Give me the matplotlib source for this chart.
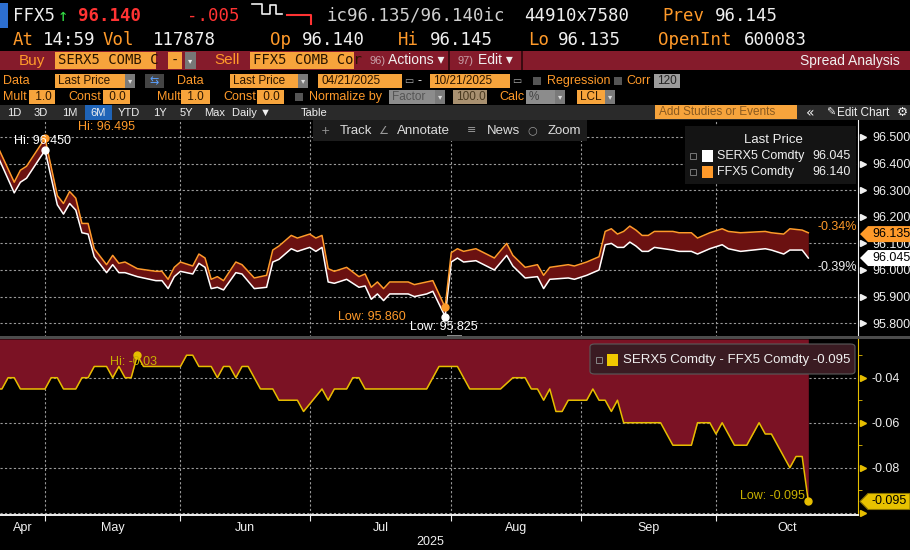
import numpy as np
import matplotlib
matplotlib.use("Agg")
import matplotlib.pyplot as plt
import matplotlib.transforms as mtransforms
from matplotlib.patches import Rectangle, Polygon, FancyBboxPatch

W, H = 910, 550
MONO = "DejaVu Sans Mono"
SANS = ["Liberation Sans", "DejaVu Sans"]
ORANGE = "#ff9a2a"
AMBER = "#f7a43c"
WHITE = "#f0f0f0"

# trading day number, counted in weekdays from Mon 21 Apr 2025
days = [0, 3, 4, 5, 8, 10, 11, 12, 13, 14, 15, 16, 18, 19, 20, 21, 23, 26, 27, 28,
        29, 30, 32, 33, 34, 35, 36, 37, 39, 40, 42, 44, 45, 46, 48, 49, 51, 52, 53, 54,
        55, 57, 59, 60, 61, 62, 63, 64, 67, 68, 70, 71, 73, 74, 75, 76, 78, 81, 83, 84,
        86, 88, 89, 90, 93, 94, 96, 98, 99, 100, 101, 102, 103, 104, 105, 106, 107, 110, 111, 113,
        114, 115, 116, 118, 119, 121, 125, 126, 128, 129, 131, 132]
ffx5 = [96.480, 96.330, 96.375, 96.390, 96.495, 96.280, 96.250, 96.295, 96.270, 96.175,
        96.175, 96.080, 96.020, 96.055, 96.025, 96.030, 96.005, 95.995, 95.995, 95.965,
        96.010, 96.030, 96.015, 96.060, 96.045, 95.965, 95.975, 95.960, 96.030, 96.020,
        95.970, 95.980, 96.075, 96.090, 96.130, 96.120, 96.135, 96.120, 96.130, 96.005,
        95.995, 96.010, 95.975, 95.985, 95.935, 95.955, 95.930, 95.955, 95.955, 95.945,
        95.955, 95.960, 95.860, 96.065, 96.080, 96.070, 96.080, 96.045, 96.100, 96.055,
        96.010, 96.020, 95.980, 96.010, 96.020, 96.015, 96.030, 96.050, 96.145, 96.155,
        96.135, 96.145, 96.165, 96.150, 96.130, 96.130, 96.145, 96.145, 96.140, 96.140,
        96.120, 96.130, 96.140, 96.155, 96.145, 96.140, 96.145, 96.140, 96.135, 96.155,
        96.150, 96.140]
serx5 = [96.445, 96.290, 96.330, 96.345, 96.450, 96.245, 96.210, 96.250, 96.225, 96.140,
         96.135, 96.050, 95.990, 96.020, 95.990, 95.990, 95.975, 95.960, 95.960, 95.930,
         95.975, 95.995, 95.985, 96.025, 96.010, 95.930, 95.935, 95.925, 95.990, 95.985,
         95.930, 95.935, 96.030, 96.040, 96.080, 96.070, 96.085, 96.070, 96.085, 95.955,
         95.950, 95.965, 95.935, 95.940, 95.890, 95.910, 95.885, 95.910, 95.910, 95.900,
         95.910, 95.920, 95.825, 96.030, 96.045, 96.030, 96.035, 96.000, 96.055, 96.015,
         95.970, 95.975, 95.930, 95.965, 95.970, 95.965, 95.980, 96.000, 96.095, 96.100,
         96.085, 96.085, 96.105, 96.090, 96.070, 96.070, 96.085, 96.075, 96.070, 96.070,
         96.060, 96.070, 96.080, 96.095, 96.080, 96.070, 96.080, 96.075, 96.060, 96.075,
         96.075, 96.045]

# SERX5 - FFX5 spread
sp_days = [0, 1, 2, 3, 4, 8, 9, 10, 11, 13, 14, 15, 16, 18, 19, 20, 21, 22, 23, 24,
           30, 31, 32, 33, 35, 36, 37, 38, 39, 40, 41, 43, 45, 46, 49, 50, 53, 54, 55, 57,
           58, 59, 60, 70, 72, 75, 77, 82, 84, 86, 87, 88, 89, 90, 91, 92, 93, 96, 97, 98,
           99, 100, 101, 102, 108, 110, 113, 114, 116, 117, 118, 120, 122, 124, 125, 126, 129, 130, 131, 132]
spread = [-0.045, -0.045, -0.040, -0.040, -0.045, -0.045, -0.040, -0.040, -0.045, -0.045,
          -0.040, -0.040, -0.035, -0.035, -0.040, -0.035, -0.040, -0.040, -0.030, -0.035,
          -0.035, -0.030, -0.030, -0.035, -0.035, -0.040, -0.035, -0.035, -0.040, -0.035,
          -0.035, -0.045, -0.045, -0.050, -0.050, -0.055, -0.045, -0.050, -0.045, -0.045,
          -0.040, -0.040, -0.045, -0.045, -0.035, -0.035, -0.045, -0.045, -0.040, -0.040,
          -0.045, -0.045, -0.050, -0.045, -0.055, -0.055, -0.050, -0.050, -0.045, -0.050,
          -0.050, -0.055, -0.050, -0.060, -0.060, -0.070, -0.070, -0.060, -0.060, -0.065,
          -0.060, -0.070, -0.070, -0.060, -0.065, -0.065, -0.080, -0.075, -0.075, -0.095]

# first trading day of each month and month names
month_starts = [8, 30, 51, 74, 95, 117]
month_names = ["Apr", "May", "Jun", "Jul", "Aug", "Sep", "Oct"]
price_ticks = [95.8, 95.9, 96.0, 96.1, 96.2, 96.3, 96.4, 96.5]
spread_ticks = [-0.04, -0.06, -0.08]
spread_minor = [-0.03, -0.05, -0.07, -0.09]

fig = plt.figure(figsize=(W / 100, H / 100), dpi=100, facecolor="black")


def fx(x):
    return x / W


def fy(y):
    return 1 - y / H


def ptxt(x, y, s, color=WHITE, size=9, family=SANS, ha="left", va="center", **kw):
    fig.text(fx(x), fy(y), s, color=color, fontsize=size, family=family, ha=ha, va=va, **kw)


def prect(x0, y0, x1, y1, color, **kw):
    fig.add_artist(Rectangle((fx(x0), fy(y1)), (x1 - x0) / W, (y1 - y0) / H,
                             transform=fig.transFigure, facecolor=color,
                             edgecolor=kw.pop("edgecolor", "none"), **kw))


def box(x0, x1, y0, y1, s, face=AMBER, tcolor="#2a1500", size=8.5, family=SANS, drop=False):
    prect(x0, y0, x1, y1, face)
    ptxt(x0 + 3, (y0 + y1) / 2, s, color=tcolor, size=size, family=family)
    if drop:
        prect(x1 - 10, y0, x1, y1, "#7a7a7a")
        ptxt(x1 - 5, (y0 + y1) / 2, "▾", color="#dddddd", size=6, family="DejaVu Sans", ha="center")


HEAD = 12.5

# ---- header row 1
prect(0, 3, 8, 28, "#2d6fd0")
ptxt(13, 16, "FFX5", WHITE, HEAD, MONO)
ptxt(58, 16, "↑", "#33dd44", HEAD, MONO)
ptxt(78, 16, "96.140", "#ff3333", HEAD, MONO, weight="bold")
ptxt(187, 16, "-.005", "#ff3333", HEAD, MONO)
fig.add_artist(plt.Line2D([fx(252), fx(262), fx(262), fx(270), fx(270), fx(276), fx(276), fx(282)],
                          [fy(4), fy(4), fy(14), fy(14), fy(5), fy(5), fy(14), fy(14)],
                          color=WHITE, lw=1.2, transform=fig.transFigure))
fig.add_artist(plt.Line2D([fx(287), fx(311), fx(311)], [fy(15), fy(15), fy(24)],
                          color="#ff3333", lw=1.5, transform=fig.transFigure))
ptxt(327, 16, "ic96.135/96.140ic", "#d0d0d0", HEAD, MONO)
ptxt(524, 16, "44910x7580", WHITE, HEAD, MONO)
ptxt(662, 16, "Prev", ORANGE, HEAD, MONO)
ptxt(715, 16, "96.145", WHITE, HEAD, MONO)

# ---- header row 2
for x, s, c in [(13, "At", ORANGE), (43, "14:59", WHITE), (103, "Vol", ORANGE), (153, "117878", WHITE),
                (270, "Op", ORANGE), (302, "96.140", WHITE), (398, "Hi", ORANGE), (430, "96.145", WHITE),
                (528, "Lo", ORANGE), (558, "96.135", WHITE), (658, "OpenInt", ORANGE), (744, "600083", WHITE)]:
    ptxt(x, 40, s, c, HEAD, MONO)

# ---- header row 3 (red bar)
prect(0, 51, W, 70, "#851b2b")
ptxt(19, 60.5, "Buy", ORANGE, 11)
box(55, 156, 52, 69, "SERX5 COMB C", size=10, family=MONO)
box(168, 182, 52, 69, "-", size=10, family=MONO)
prect(185, 52, 196, 69, "#777777")
ptxt(190.5, 60.5, "▾", "#eeeeee", 6, "DejaVu Sans", ha="center")
ptxt(214, 60.5, "Sell", ORANGE, 11)
box(250, 354, 52, 69, "FFX5 COMB Cor", size=10, family=MONO)
ptxt(370, 60.5, "96)", "#c8a0a8", 8)
ptxt(388, 60.5, "Actions ▾", WHITE, 10)
prect(448, 51, 450, 70, "#3a0a10")
ptxt(457, 60.5, "97)", "#c8a0a8", 8)
ptxt(478, 60.5, "Edit ▾", WHITE, 10)
prect(521, 51, 523, 70, "#3a0a10")
ptxt(900, 60.5, "Spread Analysis", WHITE, 10, ha="right")

# ---- header row 4
ptxt(3, 81, "Data", ORANGE, 9)
box(55, 135, 74, 88, "Last Price", drop=True)
prect(145, 74, 164, 88, "#444444")
ptxt(154.5, 81, "⇆", "#5aa0ff", 8, "DejaVu Sans", ha="center")
ptxt(177, 81, "Data", ORANGE, 9)
box(230, 308, 74, 88, "Last Price", drop=True)
box(318, 402, 74, 88, "04/21/2025")
ptxt(409, 81, "▭", "#aaaaaa", 7, "DejaVu Sans", ha="center")
ptxt(418, 81, "-", WHITE, 9)
box(430, 510, 74, 88, "10/21/2025")
ptxt(517, 81, "▭", "#aaaaaa", 7, "DejaVu Sans", ha="center")
prect(533, 77, 541, 85, "#555555")
ptxt(547, 81, "Regression", ORANGE, 9)
prect(614, 77, 622, 85, "#555555")
ptxt(626, 81, "Corr", ORANGE, 9)
box(654, 680, 74, 88, "120", face="#9c9c9c", tcolor="#222222")

# ---- header row 5
ptxt(3, 97, "Mult", ORANGE, 9)
box(29, 55, 90, 104, " 1.0")
ptxt(68, 97, "Const", ORANGE, 9)
box(103, 130, 90, 104, " 0.0")
ptxt(157, 97, "Mult", ORANGE, 9)
box(181, 210, 90, 104, " 1.0")
ptxt(223, 97, "Const", ORANGE, 9)
box(257, 284, 90, 104, " 0.0")
prect(295, 93, 303, 101, "#555555")
ptxt(309, 97, "Normalize by", ORANGE, 9)
box(389, 445, 90, 104, "Factor", face="#8c8c8c", tcolor="#555555", drop=True)
box(453, 487, 90, 104, "100.0", face="#a89070", tcolor="#4a3a20")
ptxt(499, 97, "Calc", ORANGE, 9)
box(526, 565, 90, 104, "%", face="#8c8c8c", tcolor="#444444", drop=True)
box(577, 615, 90, 104, "LCL", drop=True)

# ---- header row 6 (toolbar)
prect(0, 105, W, 120, "#2a2a2a")
prect(85, 105, 112, 120, "#1f64b8")
for x, s in [(14, "1D"), (41, "3D"), (70, "1M"), (98, "6M"), (129, "YTD"), (160, "1Y"),
             (186, "5Y"), (215, "Max"), (252, "Daily ▼"), (314, "Table")]:
    ptxt(x, 112.5, s, WHITE, 8, ha="center")
prect(655, 105, 797, 119, AMBER)
ptxt(659, 112, "Add Studies or Events", "#8a5a20", 8.5)
ptxt(806, 112.5, "«", WHITE, 10, "DejaVu Sans")
ptxt(826, 112.5, "✎", WHITE, 8, "DejaVu Sans")
ptxt(837, 112.5, "Edit Chart", WHITE, 8.5)
ptxt(902, 112.5, "⚙", WHITE, 9, "DejaVu Sans", ha="center")

# ---- axes
ax1 = fig.add_axes([0, fy(337), 858 / W, (337 - 120) / H], facecolor="black")
ax2 = fig.add_axes([0, fy(515), 858 / W, (515 - 339) / H], facecolor="black")
xlim = (0.69, 140.07)
for ax in (ax1, ax2):
    ax.set_xlim(*xlim)
    for side in ("left", "top", "bottom"):
        ax.spines[side].set_visible(False)
    ax.yaxis.tick_right()
    for d in month_starts:
        ax.axvline(d, color="#9a9a9a", lw=0.8, ls=(0, (2, 2)), zorder=0)
ax1.set_ylim(95.7481, 96.5639)
ax2.set_ylim(-0.1010, -0.0228)

# price panel
for v in price_ticks:
    ax1.axhline(v, color="#9a9a9a", lw=0.8, ls=(0, (2, 2)), zorder=0)
ax1.fill_between(days, serx5, ffx5, color="#6b1111", lw=0, zorder=1)
ax1.plot(days, serx5, color="white", lw=1.1, zorder=3)
ax1.plot(days, ffx5, color=ORANGE, lw=1.1, zorder=3)
ax1.set_xticks([])
ax1.set_yticks(price_ticks)
ax1.set_yticklabels([f"{v:.3f}" for v in price_ticks])
ax1.tick_params(axis="y", length=0, pad=10, labelsize=9, labelcolor=WHITE)
for lab in ax1.get_yticklabels():
    lab.set_family(SANS)
ax1.spines["right"].set_color(WHITE)
tr1 = mtransforms.blended_transform_factory(ax1.transAxes, ax1.transData)
ax1.plot([1.006] * len(price_ticks), price_ticks, ls="none", marker=">", ms=4.5,
         color=WHITE, transform=tr1, clip_on=False)

# hi / low markers
i_hi, i_lo = int(np.argmax(ffx5)), int(np.argmin(ffx5))
j_hi, j_lo = int(np.argmax(serx5)), int(np.argmin(serx5))
for x, y, c, s, off, ha in [
    (days[i_hi], ffx5[i_hi], ORANGE, f"Hi: {ffx5[i_hi]:.3f}", (33, 11), "left"),
    (days[j_hi], serx5[j_hi], "white", f"Hi: {serx5[j_hi]:.3f}", (-31, 9), "left"),
    (days[i_lo], ffx5[i_lo], ORANGE, f"Low: {ffx5[i_lo]:.3f}", (-39, -10), "right"),
    (days[j_lo], serx5[j_lo], "white", f"Low: {serx5[j_lo]:.3f}", (-35, -10), "left"),
]:
    ax1.plot([x], [y], "o", color=c, ms=5, zorder=5, clip_on=False)
    ax1.annotate(s, (x, y), xytext=off, textcoords="offset pixels", color=c, fontsize=9,
                 family=SANS, ha=ha, va="center", zorder=6)

# spread panel
for v in spread_ticks + [-0.10]:
    ax2.axhline(v, color="#9a9a9a", lw=0.8, ls=(0, (2, 2)), zorder=0)
ax2.fill_between(sp_days, spread, ax2.get_ylim()[1], color="#7b1224", lw=0, zorder=1)
ax2.plot(sp_days, spread, color="#e6be00", lw=1.1, zorder=3)
ax2.spines["right"].set_color("#e6be00")
ax2.spines["bottom"].set_visible(True)
ax2.spines["bottom"].set_color(WHITE)
ax2.spines["bottom"].set_linewidth(1.4)
ax2.set_yticks(spread_ticks)
ax2.set_yticklabels([f"{v:.2f}" for v in spread_ticks])
ax2.set_yticks(spread_minor, minor=True)
ax2.tick_params(axis="y", which="major", length=0, pad=10, labelsize=9, labelcolor=WHITE)
ax2.tick_params(axis="y", which="minor", length=3, color="#e6be00", direction="out")
for lab in ax2.get_yticklabels():
    lab.set_family(SANS)
tr2 = mtransforms.blended_transform_factory(ax2.transAxes, ax2.transData)
ax2.plot([1.006] * (len(spread_ticks) + 1), spread_ticks + [-0.10], ls="none", marker=">",
         ms=4.5, color="#e6be00", transform=tr2, clip_on=False)

# month ticks and labels
bounds = [xlim[0]] + month_starts + [xlim[1]]
mids = [(a + b) / 2 for a, b in zip(bounds[:-1], bounds[1:])]
ax2.set_xticks(month_starts)
ax2.set_xticklabels([])
ax2.set_xticks(mids, minor=True)
ax2.set_xticklabels(month_names, minor=True)
ax2.tick_params(axis="x", which="major", length=4, color=WHITE, direction="out")
ax2.tick_params(axis="x", which="minor", length=0, pad=5, labelsize=9, labelcolor=WHITE)
for lab in ax2.get_xticklabels(minor=True):
    lab.set_family(SANS)
ptxt(430, 542, "2025", WHITE, 9, ha="center")

k_hi, k_lo = int(np.argmax(spread)), int(np.argmin(spread))
for x, y, s, off, ha in [
    (sp_days[k_hi], spread[k_hi], f"Hi: {spread[k_hi]:.2f}", (-27, -7), "left"),
    (sp_days[k_lo], spread[k_lo], f"Low: {spread[k_lo]:.3f}", (-3, 5), "right"),
]:
    ax2.plot([x], [y], "o", color="#e6be00", ms=5, zorder=5, clip_on=False)
    ax2.annotate(s, (x, y), xytext=off, textcoords="offset pixels", color="#c8b000",
                 fontsize=9, family=SANS, ha=ha, va="center", zorder=6)

# panel separator
prect(0, 336, W, 339, "#4c4c4c")
prect(447, 335, 462, 336, "#8a8a8a")

# ---- chart toolbar
prect(313, 120, 587, 141, "#1c1c1c")
for x, s in [(325, "+"), (383, "∠"), (472, "≡"), (532, "○")]:
    ptxt(x, 130.5, s, "#9a9a9a", 8, "DejaVu Sans", ha="center")
for x, s in [(340, "Track"), (397, "Annotate"), (487, "News"), (548, "Zoom")]:
    ptxt(x, 130.5, s, "#dcdcdc", 9.5)

# ---- legends
prect(685, 126, 856, 184, "#141414")
ptxt(773, 140, "Last Price", WHITE, 9.5, ha="center")
for y, c, name, val in [(156, "white", "SERX5 Comdty", serx5[-1]), (172, ORANGE, "FFX5 Comdty", ffx5[-1])]:
    prect(690, y - 3, 696, y + 3, "none", edgecolor="#777777", lw=0.7)
    prect(702, y - 6, 713, y + 6, c)
    ptxt(717, y, name, WHITE, 9)
    ptxt(851, y, f"{val:.3f}", WHITE, 9, ha="right")

fig.add_artist(FancyBboxPatch((fx(590), fy(374)), 265 / W, 30 / H, boxstyle="round,pad=0,rounding_size=0.005",
                              transform=fig.transFigure, facecolor="#3a1b22", edgecolor="#5a5a5a", lw=0.8))
prect(596, 357, 602, 363, "none", edgecolor="#888888", lw=0.7)
prect(607, 354, 618, 366, "#f0c800")
ptxt(623, 360, f"SERX5 Comdty - FFX5 Comdty {spread[-1]:.3f}", WHITE, 9.5)

# ---- last value tags and % change
fig.canvas.draw()


def tag(ax, val, face, text, edge="none"):
    yd = ax.transData.transform((0, val))[1]
    pts = [(860, yd), (868, yd + 8), (910, yd + 8), (910, yd - 8), (868, yd - 8)]
    fig.add_artist(Polygon(pts, closed=True, transform=mtransforms.IdentityTransform(),
                           facecolor=face, edgecolor=edge, lw=0.8, zorder=10))
    fig.text(872 / W, yd / H, text, color="black", fontsize=9, family=SANS, va="center", zorder=11)
    return yd


yo = tag(ax1, 96.135, ORANGE, "96.135")
yw = tag(ax1, serx5[-1], "white", f"{serx5[-1]:.3f}")
tag(ax2, spread[-1], "#e8c200", f"{spread[-1]:.3f}", edge="#8a7400")
fig.text(857 / W, (yo + 7) / H, "-0.34%", color=ORANGE, fontsize=9, family=SANS, ha="right", va="center")
fig.text(857 / W, (yw - 9) / H, "-0.39%", color=WHITE, fontsize=9, family=SANS, ha="right", va="center")

fig.savefig("out.png", dpi=100, facecolor="black")
